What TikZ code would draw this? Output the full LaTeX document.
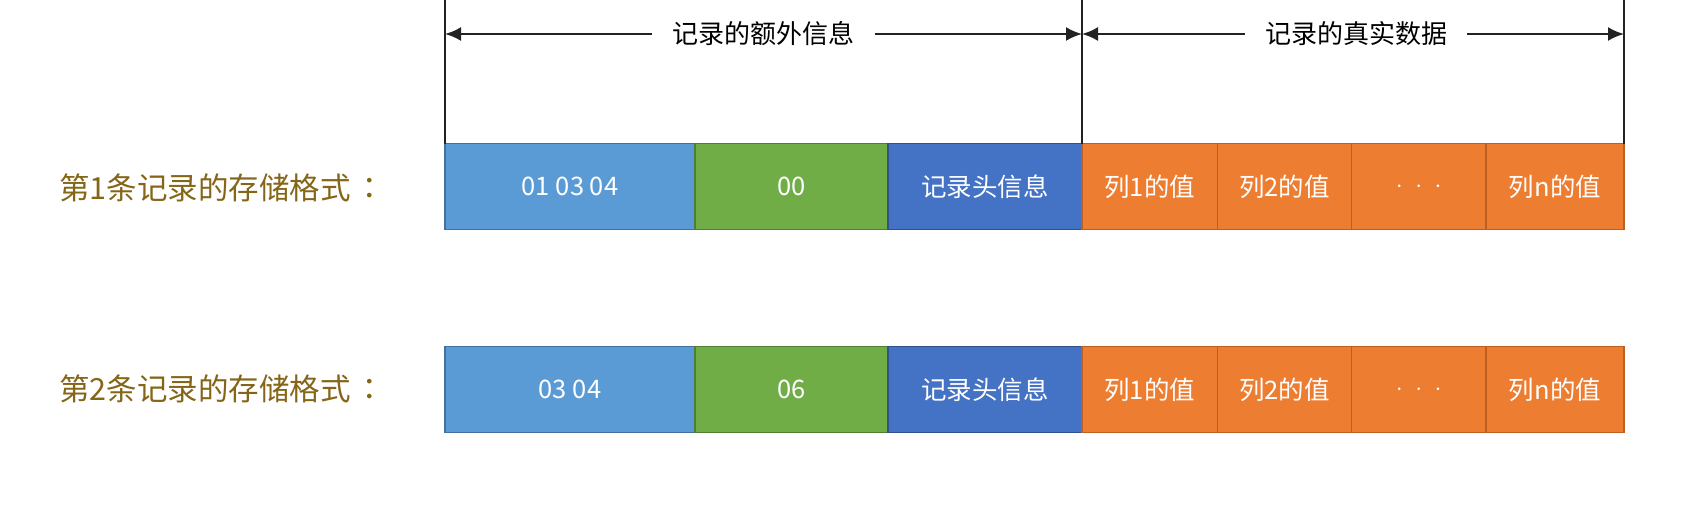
\documentclass[tikz,border=0pt]{standalone}
\usepackage{fontspec}
\setmainfont{Noto Sans CJK SC}
\newfontfamily\tcfont{Noto Sans CJK TC}
\usetikzlibrary{arrows.meta}
\definecolor{cLblue}{HTML}{5B9BD5}
\definecolor{cLblueD}{HTML}{41719C}
\definecolor{cGreen}{HTML}{70AD47}
\definecolor{cGreenD}{HTML}{507E32}
\definecolor{cBlue}{HTML}{4472C4}
\definecolor{cBlueD}{HTML}{2F528F}
\definecolor{cOrange}{HTML}{ED7D31}
\definecolor{cOrangeD}{HTML}{BE5F22}
\definecolor{cBrown}{RGB}{133,102,24}
\definecolor{cLine}{HTML}{222222}
\tikzset{
  cell/.style={draw=#1, line width=1.2pt, anchor=north west, inner sep=0pt, outer sep=0pt,
    minimum height=86pt, text=white, font=\fontsize{25.5}{28}\selectfont},
  rowlabel/.style={anchor=west, inner sep=0pt, text=cBrown, font=\fontsize{30.5}{34}\selectfont},
  hdr/.style={fill=white, inner xsep=20pt, inner ysep=2pt, font=\fontsize{26}{30}\selectfont},
  dim/.style={line width=2.2pt, draw=cLine, -{Latex[length=16pt,width=14pt]}},
  vline/.style={line width=1.8pt, draw=cLine}
}
\newcommand{\mydots}{$\cdot\hspace{7pt}\cdot\hspace{7pt}\cdot$}
\begin{document}
\begin{tikzpicture}[x=1pt,y=-1pt]
\useasboundingbox (0,0) rectangle (1682,504);
% row 1
\node[cell=cLblueD, fill=cLblue, minimum width=250pt] (a1) at (445,143.7) {01 03 04};
\node[cell=cGreenD, fill=cGreen, minimum width=193pt] (b1) at (695,143.7) {00};
\node[cell=cBlueD, fill=cBlue, minimum width=194pt] (c1) at (888,143.7) {记录头信息};
\node[cell=cOrangeD, fill=cOrange, minimum width=135.5pt] (d1) at (1082,143.7) {列1的值};
\node[cell=cOrangeD, fill=cOrange, minimum width=134pt] (e1) at (1217.5,143.7) {列2的值};
\node[cell=cOrangeD, fill=cOrange, minimum width=134.5pt] (f1) at (1351.5,143.7) {\mydots};
\node[cell=cOrangeD, fill=cOrange, minimum width=138pt] (g1) at (1486,143.7) {列n的值};
% row 2
\node[cell=cLblueD, fill=cLblue, minimum width=250pt] (a2) at (445,346.5) {03 04};
\node[cell=cGreenD, fill=cGreen, minimum width=193pt] (b2) at (695,346.5) {06};
\node[cell=cBlueD, fill=cBlue, minimum width=194pt] (c2) at (888,346.5) {记录头信息};
\node[cell=cOrangeD, fill=cOrange, minimum width=135.5pt] (d2) at (1082,346.5) {列1的值};
\node[cell=cOrangeD, fill=cOrange, minimum width=134pt] (e2) at (1217.5,346.5) {列2的值};
\node[cell=cOrangeD, fill=cOrange, minimum width=134.5pt] (f2) at (1351.5,346.5) {\mydots};
\node[cell=cOrangeD, fill=cOrange, minimum width=138pt] (g2) at (1486,346.5) {列n的值};
% row labels
\node[rowlabel] (l1) at (59,187.7) {第1条记录的存储格式\hspace{4pt}{\tcfont ：}};
\node[rowlabel] (l2) at (59,388.5) {第2条记录的存储格式\hspace{4pt}{\tcfont ：}};
% vertical lines
\coordinate (t1) at (445,0);
\coordinate (t2) at (1082,0);
\coordinate (t3) at (1624,0);
\draw[vline] (t1) -- (a1.north west);
\draw[vline] (t2) -- (d1.north west);
\draw[vline] (t3) -- (g1.north east);
% dimension arrows
\coordinate (p1) at (445,34);
\coordinate (p2) at (1082,34);
\coordinate (p3) at (1624,34);
\node[hdr] (h1) at (763.5,34) {记录的额外信息};
\node[hdr] (h2) at (1356,34) {记录的真实数据};
\draw[dim] (h1) -- (p1);
\draw[dim] (h1) -- (p2);
\draw[dim] (h2) -- (p2);
\draw[dim] (h2) -- (p3);
\end{tikzpicture}
\end{document}
